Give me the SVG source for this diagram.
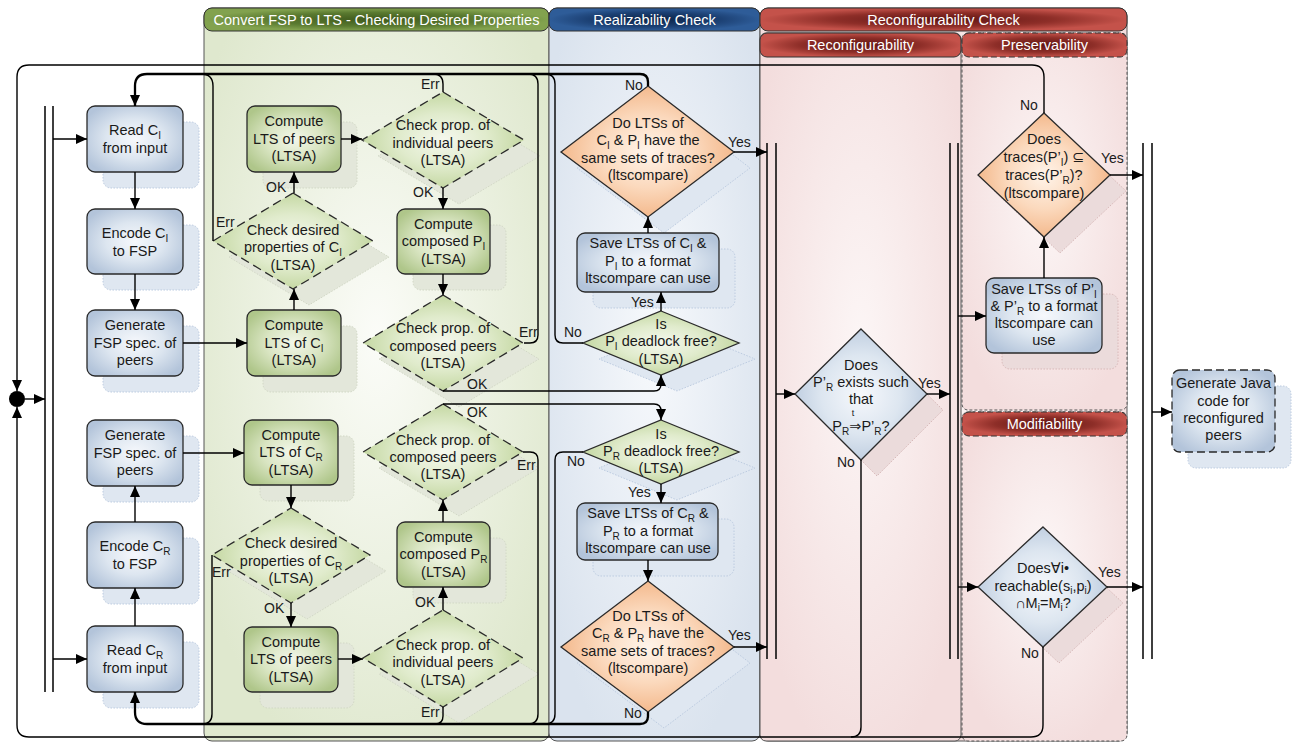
<svg xmlns="http://www.w3.org/2000/svg" width="1293" height="742" viewBox="0 0 1293 742">
<defs>
<style>
.t{font-family:"Liberation Sans","DejaVu Sans",Arial,sans-serif;font-size:14.5px;fill:#1a1a1a;text-anchor:middle}
.l{font-family:"Liberation Sans","DejaVu Sans",Arial,sans-serif;font-size:14px;fill:#1a1a1a}
.h{font-family:"Liberation Sans","DejaVu Sans",Arial,sans-serif;font-size:14.5px;fill:#fff;text-anchor:middle}
.s{font-size:10px}
.nB{fill:url(#gB);stroke:#2a2a2a;stroke-width:1.3}
.nG{fill:url(#gG);stroke:#2a2a2a;stroke-width:1.3}
.dG{fill:url(#gDG);stroke:#2a2a2a;stroke-width:1.3;stroke-dasharray:9 5}
.dGs{fill:url(#gDG);stroke:#2a2a2a;stroke-width:1.3}
.dO{fill:url(#gO);stroke:#2a2a2a;stroke-width:1.3}
.dB{fill:url(#gB);stroke:#2a2a2a;stroke-width:1.3}
.shB{fill:#dfe7f1;stroke:#bccbe0;stroke-width:1;stroke-dasharray:1.5 1.5}
.shG{fill:#e3e7da;stroke:#d2d8c6;stroke-width:1;stroke-dasharray:1.5 1.5}
.shR{fill:#ebdbdb;stroke:#d8b9b9;stroke-width:1;stroke-dasharray:1.5 1.5}
.c{fill:none;stroke:#000;stroke-width:1.4}
.ck{fill:none;stroke:#000;stroke-width:2.3}
.bar{fill:none;stroke:#000;stroke-width:1.5}
.lane{stroke:#555;stroke-width:1}
</style>
<marker id="ah" viewBox="0 0 11 10" refX="11" refY="5" markerWidth="11" markerHeight="10" markerUnits="userSpaceOnUse" orient="auto"><path d="M0,0 L11,5 L0,10 z" fill="#000"/></marker>
<radialGradient id="gB" cx="0.5" cy="0.5" r="0.6"><stop offset="0" stop-color="#f6f8fc"/><stop offset="0.5" stop-color="#dde6f0"/><stop offset="1" stop-color="#b3c4da"/></radialGradient>
<radialGradient id="gG" cx="0.5" cy="0.5" r="0.6"><stop offset="0" stop-color="#f3f7ea"/><stop offset="0.5" stop-color="#d9e5c2"/><stop offset="1" stop-color="#afc68a"/></radialGradient>
<radialGradient id="gDG" cx="0.5" cy="0.5" r="0.55"><stop offset="0" stop-color="#f5f8ee"/><stop offset="0.5" stop-color="#e0ebcc"/><stop offset="1" stop-color="#bfd49a"/></radialGradient>
<radialGradient id="gO" cx="0.5" cy="0.5" r="0.55"><stop offset="0" stop-color="#fff4ea"/><stop offset="0.5" stop-color="#fbd9bd"/><stop offset="1" stop-color="#f2b282"/></radialGradient>
<radialGradient id="laneG" cx="0.5" cy="0.45" r="0.6"><stop offset="0" stop-color="#fbfcf8"/><stop offset="1" stop-color="#dfe8ce"/></radialGradient>
<radialGradient id="laneB" cx="0.5" cy="0.45" r="0.6"><stop offset="0" stop-color="#f7f9fc"/><stop offset="1" stop-color="#dae3ee"/></radialGradient>
<radialGradient id="laneR" cx="0.5" cy="0.45" r="0.6"><stop offset="0" stop-color="#fcf6f6"/><stop offset="1" stop-color="#f3dddd"/></radialGradient>
<radialGradient id="hG" cx="0.5" cy="0.5" r="0.5"><stop offset="0" stop-color="#3f5a1c"/><stop offset="0.6" stop-color="#5a7a30"/><stop offset="1" stop-color="#82a24e"/></radialGradient>
<radialGradient id="hB" cx="0.5" cy="0.5" r="0.5"><stop offset="0" stop-color="#0c2448"/><stop offset="0.6" stop-color="#1b3f72"/><stop offset="1" stop-color="#2e5c98"/></radialGradient>
<radialGradient id="hR" cx="0.5" cy="0.5" r="0.5"><stop offset="0" stop-color="#5e1412"/><stop offset="0.6" stop-color="#8e2e28"/><stop offset="1" stop-color="#c4524a"/></radialGradient>
</defs>
<rect width="1293" height="742" fill="#fff"/>

<g id="lanes">
<g id="lane-convert">
<rect class="lane" x="204" y="8" width="345" height="733" rx="8" fill="url(#laneG)"/>
<rect x="204" y="8" width="345" height="23" rx="8" fill="url(#hG)" stroke="#333"/>
<text class="h" x="376.5" y="25">Convert FSP to LTS - Checking Desired Properties</text>
</g>
<g id="lane-realizability">
<rect class="lane" x="549" y="8" width="211" height="733" rx="8" fill="url(#laneB)"/>
<rect x="549" y="8" width="211" height="23" rx="8" fill="url(#hB)" stroke="#333"/>
<text class="h" x="654.5" y="25">Realizability Check</text>
</g>
<g id="lane-reconf">
<rect class="lane" x="760" y="8" width="367" height="733" rx="8" fill="url(#laneR)"/>
<rect class="lane" x="760" y="33" width="201" height="708" rx="6" fill="url(#laneR)"/>
<rect class="lane" x="962" y="33" width="165" height="377" rx="6" fill="url(#laneR)" stroke-dasharray="3 2"/>
<rect class="lane" x="962" y="412" width="165" height="329" rx="6" fill="url(#laneR)" stroke-dasharray="3 2"/>
<rect x="760" y="8" width="367" height="23" rx="8" fill="url(#hR)" stroke="#333"/>
<text class="h" x="943.5" y="25">Reconfigurability Check</text>
<rect x="760" y="33" width="201" height="24" rx="7" fill="url(#hR)" stroke="#333"/>
<text class="h" x="860.5" y="50">Reconfigurability</text>
<rect x="962" y="33" width="165" height="24" rx="7" fill="url(#hR)" stroke="#333" stroke-dasharray="6 3"/>
<text class="h" x="1044.5" y="50">Preservability</text>
<rect x="962" y="412" width="165" height="24" rx="7" fill="url(#hR)" stroke="#333" stroke-dasharray="6 3"/>
<text class="h" x="1044.5" y="429">Modifiability</text>
</g>
</g>

<g id="n-readCI">
<rect class="shB" x="103" y="122" width="96" height="66" rx="8"/>
<rect class="nB" x="87" y="106" width="96" height="66" rx="8"/>
<text class="t" x="135" y="135">Read C<tspan class="s" dy="4">I</tspan></text>
<text class="t" x="135" y="153">from input</text>
</g>
<g id="n-encodeCI">
<rect class="shB" x="103" y="225" width="96" height="65" rx="8"/>
<rect class="nB" x="87" y="209" width="96" height="65" rx="8"/>
<text class="t" x="135" y="237.5">Encode C<tspan class="s" dy="4">I</tspan></text>
<text class="t" x="135" y="255.5">to FSP</text>
</g>
<g id="n-genI">
<rect class="shB" x="103" y="326" width="96" height="66" rx="8"/>
<rect class="nB" x="87" y="310" width="96" height="66" rx="8"/>
<text class="t" x="135" y="330">Generate</text>
<text class="t" x="135" y="347.5">FSP spec. of</text>
<text class="t" x="135" y="365">peers</text>
</g>
<g id="n-genR">
<rect class="shB" x="103" y="436" width="96" height="66" rx="8"/>
<rect class="nB" x="87" y="420" width="96" height="66" rx="8"/>
<text class="t" x="135" y="440">Generate</text>
<text class="t" x="135" y="457.5">FSP spec. of</text>
<text class="t" x="135" y="475">peers</text>
</g>
<g id="n-encodeCR">
<rect class="shB" x="103" y="538" width="96" height="66" rx="8"/>
<rect class="nB" x="87" y="522" width="96" height="66" rx="8"/>
<text class="t" x="135" y="551">Encode C<tspan class="s" dy="4">R</tspan></text>
<text class="t" x="135" y="569">to FSP</text>
</g>
<g id="n-readCR">
<rect class="shB" x="103" y="642" width="96" height="66" rx="8"/>
<rect class="nB" x="87" y="626" width="96" height="66" rx="8"/>
<text class="t" x="135" y="655">Read C<tspan class="s" dy="4">R</tspan></text>
<text class="t" x="135" y="673">from input</text>
</g>

<g id="n-ltsPeersI">
<rect class="shG" x="263" y="122" width="94" height="66" rx="8"/>
<rect class="nG" x="247" y="106" width="94" height="66" rx="8"/>
<text class="t" x="294" y="126">Compute</text>
<text class="t" x="294" y="143.5">LTS of peers</text>
<text class="t" x="294" y="161">(LTSA)</text>
</g>
<g id="n-desiredCI">
<polygon class="shG" points="309,209 389,257 309,305 229,257" stroke="none"/>
<polygon class="dG" points="293,193 373,241 293,289 213,241"/>
<text class="t" x="293" y="234.5">Check desired</text>
<text class="t" x="293" y="252">properties of C<tspan class="s" dy="4">I</tspan></text>
<text class="t" x="293" y="269.5">(LTSA)</text>
</g>
<g id="n-ltsCI">
<rect class="shG" x="263" y="326" width="94" height="66" rx="8"/>
<rect class="nG" x="247" y="310" width="94" height="66" rx="8"/>
<text class="t" x="294" y="330">Compute</text>
<text class="t" x="294" y="347.5">LTS of C<tspan class="s" dy="4">I</tspan></text>
<text class="t" x="294" y="365">(LTSA)</text>
</g>
<g id="n-indivI">
<polygon class="shG" points="459,108 540,156 459,204 378,156" stroke="none"/>
<polygon class="dG" points="443,92 524,140 443,188 362,140"/>
<text class="t" x="443" y="130">Check prop. of</text>
<text class="t" x="443" y="147.5">individual peers</text>
<text class="t" x="443" y="165">(LTSA)</text>
</g>
<g id="n-composedPI">
<rect class="shG" x="413" y="225" width="93" height="65" rx="8"/>
<rect class="nG" x="397" y="209" width="93" height="65" rx="8"/>
<text class="t" x="443.5" y="228.5">Compute</text>
<text class="t" x="443.5" y="246">composed P<tspan class="s" dy="4">I</tspan></text>
<text class="t" x="443.5" y="263.5">(LTSA)</text>
</g>
<g id="n-compI">
<polygon class="shG" points="459,311 539,359 459,407 379,359" stroke="none"/>
<polygon class="dG" points="443,295 523,343 443,391 363,343"/>
<text class="t" x="443" y="333">Check prop. of</text>
<text class="t" x="443" y="351">composed peers</text>
<text class="t" x="443" y="368">(LTSA)</text>
</g>
<g id="n-ltsCR">
<rect class="shG" x="260" y="436" width="94" height="65" rx="8"/>
<rect class="nG" x="244" y="420" width="94" height="65" rx="8"/>
<text class="t" x="291" y="439.5">Compute</text>
<text class="t" x="291" y="457">LTS of C<tspan class="s" dy="4">R</tspan></text>
<text class="t" x="291" y="474.5">(LTSA)</text>
</g>
<g id="n-desiredCR">
<polygon class="shG" points="307,524 386,571 307,619 228,571" stroke="none"/>
<polygon class="dG" points="291,508 370,555 291,603 212,555"/>
<text class="t" x="291" y="548">Check desired</text>
<text class="t" x="291" y="566">properties of C<tspan class="s" dy="4">R</tspan></text>
<text class="t" x="291" y="583">(LTSA)</text>
</g>
<g id="n-ltsPeersR">
<rect class="shG" x="260" y="643" width="94" height="65" rx="8"/>
<rect class="nG" x="244" y="627" width="94" height="65" rx="8"/>
<text class="t" x="291" y="646.5">Compute</text>
<text class="t" x="291" y="664">LTS of peers</text>
<text class="t" x="291" y="681.5">(LTSA)</text>
</g>
<g id="n-indivR">
<polygon class="shG" points="459,626 539,674 459,723 379,674" stroke="none"/>
<polygon class="dG" points="443,610 523,658 443,707 363,658"/>
<text class="t" x="443" y="650">Check prop. of</text>
<text class="t" x="443" y="667">individual peers</text>
<text class="t" x="443" y="685">(LTSA)</text>
</g>
<g id="n-composedPR">
<rect class="shG" x="413" y="538" width="93" height="65" rx="8"/>
<rect class="nG" x="397" y="522" width="93" height="65" rx="8"/>
<text class="t" x="443.5" y="541.5">Compute</text>
<text class="t" x="443.5" y="559">composed P<tspan class="s" dy="4">R</tspan></text>
<text class="t" x="443.5" y="576.5">(LTSA)</text>
</g>
<g id="n-compR">
<polygon class="shG" points="459,420 539,468 459,516 379,468" stroke="none"/>
<polygon class="dG" points="443,404 523,452 443,500 363,452"/>
<text class="t" x="443" y="445">Check prop. of</text>
<text class="t" x="443" y="462">composed peers</text>
<text class="t" x="443" y="479">(LTSA)</text>
</g>

<g id="n-tracesI">
<polygon class="shB" points="664,102 750,168 664,233 577,168"/>
<polygon class="dO" points="648,86 734,152 648,217 561,152"/>
<text class="t" x="648" y="127.5">Do LTSs of</text>
<text class="t" x="648" y="145">C<tspan class="s" dy="4">I</tspan><tspan dy="-4"> &amp; P</tspan><tspan class="s" dy="4">I</tspan><tspan dy="-4"> have the</tspan></text>
<text class="t" x="648" y="162.5">same sets of traces?</text>
<text class="t" x="648" y="180">(ltscompare)</text>
</g>
<g id="n-saveCI">
<rect class="shB" x="593" y="249" width="142" height="59" rx="8"/>
<rect class="nB" x="577" y="233" width="142" height="59" rx="8"/>
<text class="t" x="648" y="248">Save LTSs of C<tspan class="s" dy="4">I</tspan><tspan dy="-4"> &amp;</tspan></text>
<text class="t" x="648" y="266">P<tspan class="s" dy="4">I</tspan><tspan dy="-4"> to a format</tspan></text>
<text class="t" x="648" y="283">ltscompare can use</text>
</g>
<g id="n-deadlockI">
<polygon class="shB" points="677,327 755,359 677,391 599,359"/>
<polygon class="dGs" points="661,311 739,343 661,375 583,343"/>
<text class="t" x="661" y="329">Is</text>
<text class="t" x="661" y="346">P<tspan class="s" dy="4">I</tspan><tspan dy="-4"> deadlock free?</tspan></text>
<text class="t" x="661" y="364">(LTSA)</text>
</g>
<g id="n-deadlockR">
<polygon class="shB" points="677,436 755,468 677,500 599,468"/>
<polygon class="dGs" points="661,420 739,452 661,484 583,452"/>
<text class="t" x="661" y="439">Is</text>
<text class="t" x="661" y="456">P<tspan class="s" dy="4">R</tspan><tspan dy="-4"> deadlock free?</tspan></text>
<text class="t" x="661" y="473">(LTSA)</text>
</g>
<g id="n-saveCR">
<rect class="shB" x="593" y="519" width="141" height="57" rx="8"/>
<rect class="nB" x="577" y="503" width="141" height="57" rx="8"/>
<text class="t" x="648" y="518">Save LTSs of C<tspan class="s" dy="4">R</tspan><tspan dy="-4"> &amp;</tspan></text>
<text class="t" x="648" y="536">P<tspan class="s" dy="4">R</tspan><tspan dy="-4"> to a format</tspan></text>
<text class="t" x="648" y="553">ltscompare can use</text>
</g>
<g id="n-tracesR">
<polygon class="shB" points="664,597 750,663 664,728 577,663"/>
<polygon class="dO" points="648,581 734,647 648,712 561,647"/>
<text class="t" x="648" y="621">Do LTSs of</text>
<text class="t" x="648" y="638">C<tspan class="s" dy="4">R</tspan><tspan dy="-4"> &amp; P</tspan><tspan class="s" dy="4">R</tspan><tspan dy="-4"> have the</tspan></text>
<text class="t" x="648" y="656">same sets of traces?</text>
<text class="t" x="648" y="673">(ltscompare)</text>
</g>

<g id="n-reconf">
<polygon class="shR" points="877,345 943,410 877,476 811,410"/>
<polygon class="dB" points="861,329 927,394 861,460 795,394"/>
<text class="t" x="861" y="370">Does</text>
<text class="t" x="861" y="387">P’<tspan class="s" dy="4">R</tspan><tspan dy="-4"> exists such</tspan></text>
<text class="t" x="861" y="404">that</text>
<text class="t" x="861" y="431">P<tspan class="s" dy="4">R</tspan><tspan dy="-4">⇒P’</tspan><tspan class="s" dy="4">R</tspan><tspan dy="-4">?</tspan></text>
<text class="t" x="853" y="416" style="font-size:9px">t</text>
</g>
<g id="n-preserv">
<polygon class="shR" points="1060,129 1126,191 1060,253 994,191"/>
<polygon class="dO" points="1044,113 1110,175 1044,237 978,175"/>
<text class="t" x="1044" y="144">Does</text>
<text class="t" x="1044" y="162">traces(P’<tspan class="s" dy="4">I</tspan><tspan dy="-4">) ⊆</tspan></text>
<text class="t" x="1044" y="180">traces(P’<tspan class="s" dy="4">R</tspan><tspan dy="-4">)?</tspan></text>
<text class="t" x="1044" y="198">(ltscompare)</text>
</g>
<g id="n-saveP">
<rect class="shR" x="1002" y="294" width="116" height="75" rx="8"/>
<rect class="nB" x="986" y="278" width="116" height="75" rx="8"/>
<text class="t" x="1044" y="294">Save LTSs of P’<tspan class="s" dy="4">I</tspan></text>
<text class="t" x="1044" y="311">&amp; P’<tspan class="s" dy="4">R</tspan><tspan dy="-4"> to a format</tspan></text>
<text class="t" x="1044" y="328">ltscompare can</text>
<text class="t" x="1044" y="345">use</text>
</g>
<g id="n-modif">
<polygon class="shR" points="1059,543 1123,603 1059,663 995,603"/>
<polygon class="dB" points="1043,527 1107,587 1043,647 978,587"/>
<text class="t" x="1043" y="573">Does∀i•</text>
<text class="t" x="1043" y="591">reachable(s<tspan class="s" dy="3">i</tspan><tspan dy="-3">,p</tspan><tspan class="s" dy="3">i</tspan><tspan dy="-3">)</tspan></text>
<text class="t" x="1043" y="608">∩M<tspan class="s" dy="3">i</tspan><tspan dy="-3">=M</tspan><tspan class="s" dy="3">i</tspan><tspan dy="-3">?</tspan></text>
</g>
<g id="n-java">
<rect class="shB" x="1188" y="386" width="103" height="82" rx="8"/>
<rect class="nB" x="1172" y="370" width="103" height="82" rx="8" stroke-dasharray="8 4"/>
<text class="t" x="1223.5" y="388">Generate Java</text>
<text class="t" x="1223.5" y="406">code for</text>
<text class="t" x="1223.5" y="423">reconfigured</text>
<text class="t" x="1223.5" y="440">peers</text>
</g>

<g id="n-merge">
<circle cx="17" cy="399" r="8" fill="#000"/>
</g>
<g id="bars">
<path class="bar" d="M45,106 V692 M53,106 V692"/>
<path class="bar" d="M767,143 V659 M776,143 V659"/>
<path class="bar" d="M950,143 V659 M958,143 V659"/>
<path class="bar" d="M1143,143 V659 M1152,143 V659"/>
</g>

<g id="connectors">
<path class="ck" d="M648,86 V82 Q648,74 640,74 H147 Q135,74 135,86 V106" marker-end="url(#ah)"/>
<path class="c" d="M213,241 V86 Q213,74 201,74"/>
<path class="c" d="M443,92 V84 Q443,74 433,74"/>
<path class="c" d="M524,343 H530 Q538,343 538,335 V84 Q538,74 528,74"/>
<path class="c" d="M583,343 H563 Q555,343 555,335 V84 Q555,74 545,74"/>
<path class="ck" d="M648,712 V716 Q648,724 640,724 H147 Q135,724 135,712 V692" marker-end="url(#ah)"/>
<path class="c" d="M212,555 V714 Q212,724 202,724"/>
<path class="c" d="M443,707 V716 Q443,724 435,724"/>
<path class="c" d="M523,452 H530 Q538,452 538,460 V714 Q538,724 528,724"/>
<path class="c" d="M583,452 H563 Q555,452 555,460 V714 Q555,724 545,724"/>
<path class="c" d="M1044,113 V77 Q1044,65 1032,65 H29 Q17,65 17,77 V391" marker-end="url(#ah)"/>
<path class="c" d="M1043,647 V725 Q1043,737 1031,737 H29 Q17,737 17,725 V407" marker-end="url(#ah)"/>
<path class="c" d="M861,460 V727 Q861,737 851,737"/>
<path class="c" d="M25,399 H45" marker-end="url(#ah)"/>
<path class="c" d="M53,139 H87" marker-end="url(#ah)"/>
<path class="c" d="M53,659 H87" marker-end="url(#ah)"/>
<path class="c" d="M135,172 V209" marker-end="url(#ah)"/>
<path class="c" d="M135,274 V310" marker-end="url(#ah)"/>
<path class="c" d="M135,626 V588" marker-end="url(#ah)"/>
<path class="c" d="M135,522 V486" marker-end="url(#ah)"/>
<path class="c" d="M183,343 H247" marker-end="url(#ah)"/>
<path class="c" d="M183,453 H244" marker-end="url(#ah)"/>
<path class="c" d="M294,310 V289" marker-end="url(#ah)"/>
<path class="c" d="M294,193 V172" marker-end="url(#ah)"/>
<path class="c" d="M341,139 H362" marker-end="url(#ah)"/>
<path class="c" d="M443,188 V209" marker-end="url(#ah)"/>
<path class="c" d="M443,274 V295" marker-end="url(#ah)"/>
<path class="c" d="M443,391 H654 Q661,391 661,384 V375" marker-end="url(#ah)"/>
<path class="c" d="M443,404 H654 Q661,404 661,411 V420" marker-end="url(#ah)"/>
<path class="c" d="M291,485 V508" marker-end="url(#ah)"/>
<path class="c" d="M291,603 V627" marker-end="url(#ah)"/>
<path class="c" d="M338,659 H363" marker-end="url(#ah)"/>
<path class="c" d="M443,610 V587" marker-end="url(#ah)"/>
<path class="c" d="M443,522 V500" marker-end="url(#ah)"/>
<path class="c" d="M661,311 V292" marker-end="url(#ah)"/>
<path class="c" d="M648,233 V217" marker-end="url(#ah)"/>
<path class="c" d="M661,484 V503" marker-end="url(#ah)"/>
<path class="c" d="M648,560 V581" marker-end="url(#ah)"/>
<path class="c" d="M734,152 H767" marker-end="url(#ah)"/>
<path class="c" d="M734,647 H767" marker-end="url(#ah)"/>
<path class="c" d="M776,394 H795" marker-end="url(#ah)"/>
<path class="c" d="M927,394 H950" marker-end="url(#ah)"/>
<path class="c" d="M958,316 H986" marker-end="url(#ah)"/>
<path class="c" d="M1044,278 V237" marker-end="url(#ah)"/>
<path class="c" d="M958,587 H978" marker-end="url(#ah)"/>
<path class="c" d="M1110,175 H1143" marker-end="url(#ah)"/>
<path class="c" d="M1107,587 H1143" marker-end="url(#ah)"/>
<path class="c" d="M1152,412 H1172" marker-end="url(#ah)"/>
</g>

<g id="labels">
<text class="l" x="266" y="192">OK</text>
<text class="l" x="216" y="227">Err</text>
<text class="l" x="421" y="89">Err</text>
<text class="l" x="413" y="197">OK</text>
<text class="l" x="519" y="337">Err</text>
<text class="l" x="467" y="389">OK</text>
<text class="l" x="467" y="417">OK</text>
<text class="l" x="564" y="337">No</text>
<text class="l" x="631" y="307">Yes</text>
<text class="l" x="625" y="90">No</text>
<text class="l" x="728" y="147">Yes</text>
<text class="l" x="567" y="466">No</text>
<text class="l" x="517" y="470">Err</text>
<text class="l" x="628" y="497">Yes</text>
<text class="l" x="415" y="607">OK</text>
<text class="l" x="421" y="717">Err</text>
<text class="l" x="624" y="718">No</text>
<text class="l" x="728" y="640">Yes</text>
<text class="l" x="212" y="577">Err</text>
<text class="l" x="264" y="613">OK</text>
<text class="l" x="918" y="388">Yes</text>
<text class="l" x="837" y="467">No</text>
<text class="l" x="1020" y="110">No</text>
<text class="l" x="1101" y="163">Yes</text>
<text class="l" x="1098" y="577">Yes</text>
<text class="l" x="1021" y="658">No</text>
</g>
</svg>
